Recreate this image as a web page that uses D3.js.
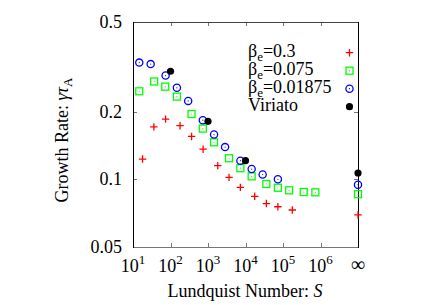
<!DOCTYPE html>
<html>
<head>
<meta charset="utf-8">
<script src="https://cdn.jsdelivr.net/npm/d3@7"></script>
<style>
  body { margin: 0; background: #fff; }
  text { font-family: "Liberation Serif", "DejaVu Serif", serif; fill: #000; }
</style>
</head>
<body>
<svg id="chart" width="436" height="305"></svg>
<script>
// Lundquist number S per point (Infinity = the "∞" column)
var sBeta03 = [18, 36, 74, 180, 365, 740, 1820, 3640, 7300, 17600, 36000, 73000, 177000, Infinity];
var gBeta03 = [0.123, 0.171, 0.185, 0.173, 0.155, 0.136, 0.115, 0.102, 0.092, 0.084, 0.078, 0.0755, 0.073, 0.0694];

var sBeta0075 = [14.7, 36.8, 72.5, 148, 364, 728, 1450, 3640, 7300, 14600, 36000, 73000, 146000, 357000, 730000, Infinity];
var gBeta0075 = [0.246, 0.272, 0.258, 0.233, 0.195, 0.168, 0.146, 0.124, 0.112, 0.103, 0.0953, 0.0917, 0.0893, 0.0878, 0.0875, 0.0858];

var sBeta001875 = [14.7, 29.6, 74, 148, 296, 728, 1450, 2850, 7300, 14600, 28700, 73000, Infinity];
var gBeta001875 = [0.330, 0.325, 0.289, 0.255, 0.223, 0.183, 0.158, 0.139, 0.121, 0.111, 0.105, 0.100, 0.0946];

var sViriato = [100, 1000, 10000, Infinity];
var gViriato = [0.302, 0.181, 0.121, 0.1066];

var xTicks = [1e1, 1e2, 1e3, 1e4, 1e5, 1e6];
var yTicks = [0.05, 0.1, 0.2, 0.5];
var yTickLabels = ["0.05", "0.1", "0.2", "0.5"];

var legendNames = ["0.3", "0.075", "0.01875"];

var svg = d3.select("#chart");
var pLeft = 133, pRight = 358, pTop = 22, pBottom = 247;
//where the ∞ column sits on the log axis
var infPos = 1e7;

var x = d3.scaleLog().domain([10, infPos]).range([pLeft, pRight]);
var y = d3.scaleLog().domain([0.05, 0.5]).range([pBottom, pTop]);
var xPos = function (s) { return x(isFinite(s) ? s : infPos); };

function zip(s, g) {
    return s.map(function (d, i) { return { s: d, g: g[i] }; });
}

//ticks, inside, mirrored
var tickLen = 4;
var ticks = svg.append("g").attr("stroke", "#777").attr("stroke-width", 1);
xTicks.slice(1).forEach(function (t) {
    var px = Math.round(x(t)) + 0.5;
    ticks.append("line").attr("x1", px).attr("x2", px).attr("y1", pBottom).attr("y2", pBottom - tickLen);
    ticks.append("line").attr("x1", px).attr("x2", px).attr("y1", pTop).attr("y2", pTop + tickLen);
});
yTicks.slice(1, 3).forEach(function (t) {
    var py = Math.round(y(t)) + 0.5;
    ticks.append("line").attr("x1", pLeft).attr("x2", pLeft + tickLen).attr("y1", py).attr("y2", py);
    ticks.append("line").attr("x1", pRight).attr("x2", pRight - tickLen).attr("y1", py).attr("y2", py);
});

//frame
svg.append("line").attr("x1", pLeft).attr("x2", pRight).attr("y1", pTop + 0.5).attr("y2", pTop + 0.5).attr("stroke", "#444");
svg.append("line").attr("x1", pLeft).attr("x2", pRight).attr("y1", pBottom + 0.5).attr("y2", pBottom + 0.5).attr("stroke", "#777");
svg.append("line").attr("x1", pLeft + 0.5).attr("x2", pLeft + 0.5).attr("y1", pTop).attr("y2", pBottom + 1).attr("stroke", "#000");
svg.append("line").attr("x1", pRight + 0.5).attr("x2", pRight + 0.5).attr("y1", pTop).attr("y2", pBottom + 1).attr("stroke", "#000");

//y tick labels
yTicks.forEach(function (t, i) {
    svg.append("text").attr("x", 122).attr("y", y(t) + 6)
        .attr("text-anchor", "end").attr("font-size", 18).text(yTickLabels[i]);
});

//x tick labels
xTicks.forEach(function (t) {
    var lab = svg.append("text").attr("x", x(t)).attr("y", 272)
        .attr("text-anchor", "middle").attr("font-size", 18);
    lab.append("tspan").text("10");
    lab.append("tspan").attr("dy", -8).attr("font-size", 13).text(Math.round(Math.log10(t)));
});
svg.append("text").attr("x", x(infPos)).attr("y", 271)
    .attr("text-anchor", "middle").attr("font-size", 20).text("∞");

//axis titles
var xt = svg.append("text").attr("x", 245).attr("y", 297)
    .attr("text-anchor", "middle").attr("font-size", 18);
xt.append("tspan").text("Lundquist Number: ");
xt.append("tspan").attr("font-style", "italic").text("S");

var yt = svg.append("text").attr("transform", "translate(68,140) rotate(-90)")
    .attr("text-anchor", "middle").attr("font-size", 18);
yt.append("tspan").text("Growth Rate: ");
yt.append("tspan").attr("font-style", "italic").text("γτ");
yt.append("tspan").attr("dy", 4).attr("font-size", 13).text("A");

//symbol painters
function drawPlus(g, cx, cy) {
    g.append("path").attr("d", "M" + (cx - 3.7) + "," + cy + "h7.4M" + cx + "," + (cy - 3.7) + "v7.4")
        .attr("stroke", "#ff0000").attr("stroke-width", 1.3).attr("fill", "none");
}
function drawSquare(g, cx, cy) {
    g.append("rect").attr("x", cx - 3.5).attr("y", cy - 3.5).attr("width", 7).attr("height", 7)
        .attr("stroke", "#00ff00").attr("stroke-width", 1.3).attr("fill", "none");
    g.append("circle").attr("cx", cx).attr("cy", cy).attr("r", 0.6).attr("fill", "#00ff00");
}
function drawCircle(g, cx, cy) {
    g.append("circle").attr("cx", cx).attr("cy", cy).attr("r", 3.6)
        .attr("stroke", "#0000ff").attr("stroke-width", 1.3).attr("fill", "none");
    g.append("circle").attr("cx", cx).attr("cy", cy).attr("r", 0.6).attr("fill", "#0000ff");
}
function drawDot(g, cx, cy) {
    g.append("circle").attr("cx", cx).attr("cy", cy).attr("r", 3.6).attr("fill", "#000");
}

var series = [
    { data: zip(sBeta03, gBeta03), draw: drawPlus },
    { data: zip(sBeta0075, gBeta0075), draw: drawSquare },
    { data: zip(sBeta001875, gBeta001875), draw: drawCircle },
    { data: zip(sViriato, gViriato), draw: drawDot }
];

var marks = svg.append("g");
series.forEach(function (sr) {
    sr.data.forEach(function (d) {
        sr.draw(marks, xPos(d.s), y(d.g));
    });
});

//legend
var legend = svg.append("g");
series.forEach(function (sr, i) {
    var base = 56.7 + i * 18;
    var t = legend.append("text").attr("x", 248).attr("y", base).attr("font-size", 18);
    if (i < 3) {
        t.append("tspan").text("β");
        t.append("tspan").attr("dy", 4).attr("font-size", 13).text("e");
        t.append("tspan").attr("dy", -4).text("=" + legendNames[i]);
    } else {
        t.text("Viriato");
    }
    sr.draw(legend, 349.5, base - 4);
});
</script>
</body>
</html>
